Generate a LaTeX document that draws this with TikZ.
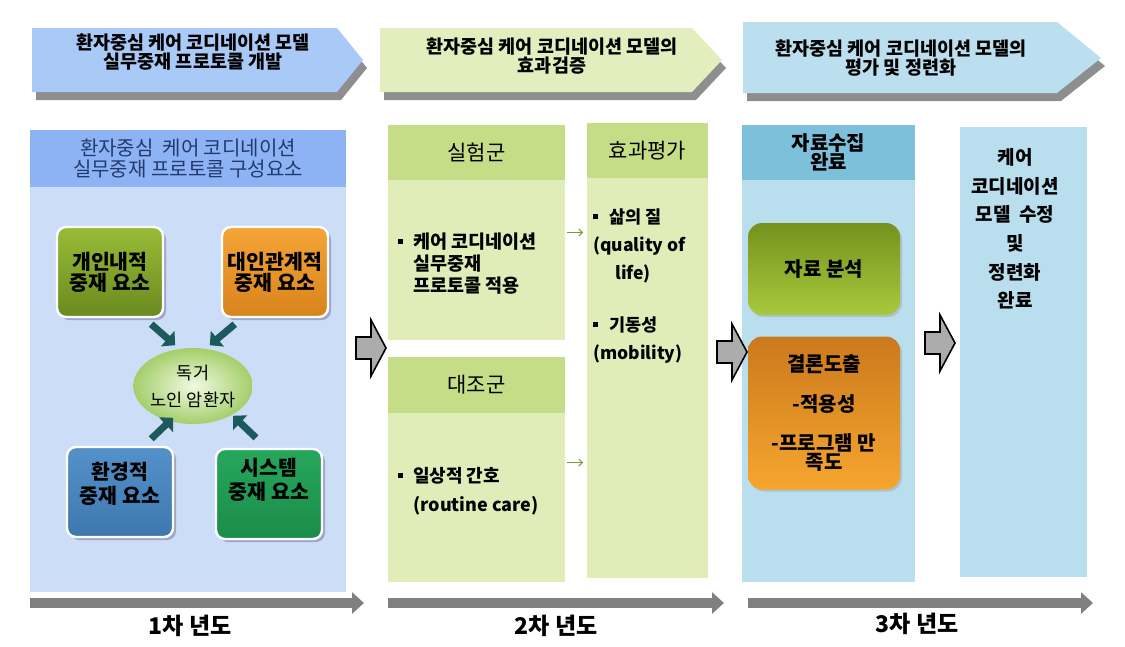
\documentclass[tikz,border=0pt]{standalone}
\usepackage{fontspec}
\setmainfont{Noto Sans CJK KR}
\usetikzlibrary{arrows.meta,shapes.geometric,shadows}
\definecolor{chevA}{HTML}{A9C9F7}
\definecolor{chevB}{HTML}{E3EEBE}
\definecolor{chevC}{HTML}{BBDFEE}
\definecolor{chevshade}{HTML}{8E8E8E}
\definecolor{lphead}{HTML}{8DB3F5}
\definecolor{lpbody}{HTML}{CCDDF8}
\definecolor{hdrtext}{HTML}{223A6E}
\definecolor{greenhead}{HTML}{C4DD86}
\definecolor{greenbody}{HTML}{E1EDB9}
\definecolor{bluehead}{HTML}{7DC0DC}
\definecolor{bluebody}{HTML}{B9DFEE}
\definecolor{tealarrow}{HTML}{1C5A5E}
\definecolor{smallarrow}{HTML}{7A9A30}
\definecolor{timegray}{HTML}{808080}
\definecolor{ipTop}{HTML}{98BC38}
\definecolor{ipBot}{HTML}{6A8A1F}
\definecolor{rpTop}{HTML}{F5A436}
\definecolor{rpBot}{HTML}{D8841E}
\definecolor{epTop}{HTML}{5592CA}
\definecolor{epBot}{HTML}{3D77AE}
\definecolor{spTop}{HTML}{26A75C}
\definecolor{spBot}{HTML}{1B8C4A}
\definecolor{anaTop}{HTML}{74921D}
\definecolor{anaBot}{HTML}{A8C93C}
\definecolor{conTop}{HTML}{CB791D}
\definecolor{conBot}{HTML}{F6A62E}
\definecolor{elderIn}{HTML}{F1F9E2}
\definecolor{elderOut}{HTML}{A3CF6A}
\newcommand{\sqbul}{\raisebox{4.5pt}{\rule{5pt}{5pt}}}
\newcommand{\lifted}[2]{\raisebox{#1}[\height][\depth]{\begin{tabular}{@{}c@{}}#2\end{tabular}}}

\begin{document}
\begin{tikzpicture}[x=1pt, y=-1pt, font=\fontsize{16}{20}\selectfont,
	area/.style={anchor=north west, inner sep=0pt, outer sep=0pt},
	pod/.style={rounded corners=9pt, draw=white, line width=2.4pt, drop shadow={shadow xshift=3pt, shadow yshift=-3pt, fill=blue!20!black!55}, minimum width=106, minimum height=90, align=center, font=\fontsize{20.5}{21}\selectfont\bfseries},
	soft/.style={rounded corners=14pt, minimum width=152, align=center, drop shadow={shadow xshift=2pt, shadow yshift=-2pt, fill=black!35}, font=\fontsize{20}{19}\selectfont\bfseries},
	tealarr/.style={draw=tealarrow, line width=7pt, -{Triangle[width=20pt, length=10pt]}},
	garr/.style={draw=smallarrow, line width=1pt, -{Straight Barb[length=3.5pt]}, shorten <=2pt, shorten >=4pt},
	blockarr/.style={draw=black, fill=gray!65, line width=1.6pt, line join=miter},
	timearr/.style={draw=timegray, line width=10pt, -{Triangle[width=21pt, length=12pt]}},
	yearlbl/.style={font=\fontsize{23}{24}\selectfont\bfseries}]
	\useasboundingbox (0,0) rectangle (1125,646);

	% stage banners
	\fill[chevshade] (36,36) -- (341,36) -- (367,68) -- (341,100) -- (36,100) -- cycle;
	\fill[chevA] (32,28) -- (337,28) -- (363,60) -- (337,92) -- (32,92) -- cycle;
	\fill[chevshade] (384,36) -- (696,36) -- (726,68) -- (696,100) -- (384,100) -- cycle;
	\fill[chevB] (380,28) -- (692,28) -- (722,60) -- (692,92) -- (380,92) -- cycle;
	\fill[chevshade] (747,30) -- (1061,30) -- (1105,66) -- (1061,101) -- (747,101) -- cycle;
	\fill[chevC] (743,22) -- (1057,22) -- (1101,58) -- (1057,93) -- (743,93) -- cycle;
	\node[align=center, font=\fontsize{18.5}{19}\selectfont\bfseries] (s1) at (193,52) {환자중심 케어 코디네이션 모델\\실무중재 프로토콜 개발};
	\node[align=center, font=\fontsize{18.5}{19}\selectfont\bfseries] (s2) at (552,56) {환자중심 케어 코디네이션 모델의\\효과검증};
	\node[align=center, font=\fontsize{18.5}{19}\selectfont\bfseries] (s3) at (901,58) {환자중심 케어 코디네이션 모델의\\평가 및 정련화};

	% year 1
	\node[area, fill=lpbody, minimum width=316, minimum height=462] (lp) at (30,130) {};
	\node[area, fill=lphead, minimum width=316, minimum height=57, align=center, text=hdrtext, font=\fontsize{20}{21}\selectfont] (lph) at (30,130) {환자중심~~케어 코디네이션\\실무중재 프로토콜 구성요소};
	\node[pod, top color=ipTop, bottom color=ipBot] (ip) at (110,272) {개인내적\\중재 요소};
	\node[pod, top color=rpTop, bottom color=rpBot] (rp) at (275,272) {대인관계적\\중재 요소};
	\node[pod, top color=epTop, bottom color=epBot] (ep) at (120,492) {\lifted{6pt}{환경적\\중재 요소}};
	\node[pod, top color=spTop, bottom color=spBot] (sp) at (269,494) {\lifted{12pt}{시스템\\중재 요소}};
	\node[ellipse, minimum width=94, minimum height=76, inner sep=0pt, inner color=elderIn, outer color=elderOut, align=center, font=\fontsize{17.5}{27}\selectfont] (elder) at (193,386) {독거\\노인 암환자};
	\draw[tealarr] (ip.south east) ++(-13,6) -- ++(24,21);
	\draw[tealarr] (rp.south west) ++(14,6) -- ++(-25,21);
	\draw[tealarr] (ep.north east) ++(-23,-7) -- ++(22,-21);
	\draw[tealarr] (sp.north) ++(-13,-10) -- ++(-23,-22);

	% year 2
	\node[area, fill=greenbody, minimum width=177, minimum height=215] (exp) at (388,125) {};
	\node[area, fill=greenhead, minimum width=177, minimum height=55, font=\fontsize{21}{22}\selectfont] (exph) at (388,125) {실험군};
	\node[anchor=north west, inner sep=0pt, font=\fontsize{18.5}{20}\selectfont\bfseries] (expt) at (398,233) {\sqbul\hspace{10pt}\begin{tabular}[t]{@{}l@{}}케어 코디네이션\\실무중재\\프로토콜 적용\end{tabular}};
	\node[area, fill=greenbody, minimum width=177, minimum height=225] (ctl) at (388,357) {};
	\node[area, fill=greenhead, minimum width=177, minimum height=56, font=\fontsize{21}{22}\selectfont] (ctlh) at (388,357) {대조군};
	\node[anchor=north west, inner sep=0pt, font=\fontsize{18}{20}\selectfont\bfseries] (ctlt) at (398,467) {\sqbul\hspace{10pt}\begin{tabular}[t]{@{}l@{}}일상적 간호\\[8pt](routine care)\end{tabular}};
	\node[area, fill=greenbody, minimum width=121, minimum height=455] (eva) at (587,123) {};
	\node[area, fill=greenhead, minimum width=121, minimum height=55, font=\fontsize{21}{22}\selectfont] (evah) at (587,123) {효과평가};
	\node[anchor=north west, inner sep=0pt, align=left, font=\fontsize{17.5}{28}\selectfont\bfseries] (evat) at (593,209) {\sqbul\hspace{11pt}삶의 질\\(quality of\\\hspace*{22pt}life)\\[24pt]\sqbul\hspace{11pt}기동성\\(mobility)};
	\draw[garr] (exp.east) -- (eva.west |- exp.east);
	\draw[garr] ([yshift=7pt]ctl.east) -- ([yshift=7pt]ctl.east -| eva.west);

	% year 3
	\node[area, fill=bluebody, minimum width=173, minimum height=457] (col) at (742,125) {};
	\node[area, fill=bluehead, minimum width=173, minimum height=55, align=center, font=\fontsize{20}{19}\selectfont\bfseries] (colh) at (742,125) {자료수집\\완료};
	\node[soft, top color=anaTop, bottom color=anaBot, minimum height=92] (ana) at (824,269) {자료 분석};
	\node[soft, top color=conTop, bottom color=conBot, minimum height=153] (con) at (824,413) {결론도출\\[20pt]-적용성\\[20pt]-프로그램 만\\족도};
	\node[area, fill=bluebody, minimum width=127, minimum height=450] (fin) at (960,127) {};
	\node[align=center, font=\fontsize{19}{28.6}\selectfont\bfseries] (fint) at (1015,229) {케어\\코디네이션\\모델~~수정\\및\\정련화\\완료};

	% between stages
	\foreach \x/\y in {356/348, 717/352, 925/343}
		\draw[blockarr] (\x,\y-11) -- ++(15,0) -- ++(0,-17) -- ++(15,28) -- ++(-15,28) -- ++(0,-17) -- ++(-15,0) -- cycle;

	% time line
	\coordinate (t1a) at (30,603); \coordinate (t1b) at (364,603);
	\coordinate (t2a) at (388,603); \coordinate (t2b) at (724,603);
	\coordinate (t3a) at (748,603); \coordinate (t3b) at (1093,603);
	\draw[timearr] (t1a) -- (t1b); \draw[timearr] (t2a) -- (t2b); \draw[timearr] (t3a) -- (t3b);
	\node[yearlbl] (y1) at (190,626) {1차 년도};
	\node[yearlbl] (y2) at (556,626) {2차 년도};
	\node[yearlbl] (y3) at (917,624) {3차 년도};
\end{tikzpicture}
\end{document}
